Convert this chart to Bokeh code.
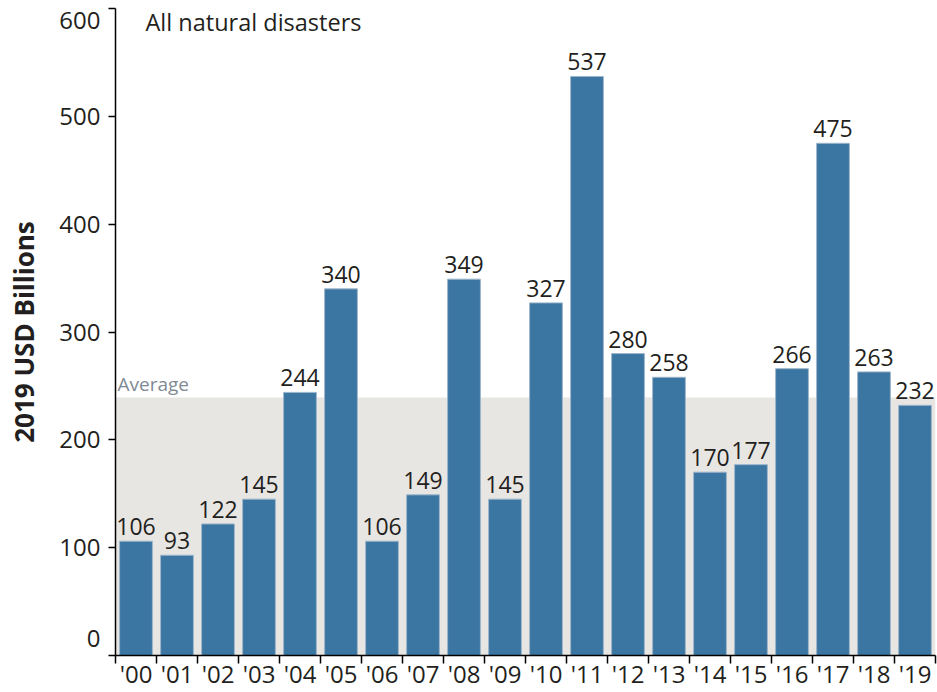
from bokeh.plotting import figure
from bokeh.models import (Range1d, FixedTicker, ColumnDataSource, LabelSet, Label,
                          BoxAnnotation, LinearAxis)
from bokeh.core.properties import value
from bokeh.embed import file_html
from bokeh.resources import INLINE

years = ["'00", "'01", "'02", "'03", "'04", "'05", "'06", "'07", "'08", "'09",
         "'10", "'11", "'12", "'13", "'14", "'15", "'16", "'17", "'18", "'19"]
losses = [106, 93, 122, 145, 244, 340, 106, 149, 349, 145,
          327, 537, 280, 258, 170, 177, 266, 475, 263, 232]
y_ticks = [0, 100, 200, 300, 400, 500, 600]
y_tick_labels = ["0", "100", "200", "300", "400", "500", "600"]
# the source keeps its end labels inside the axis span (nudge in data units)
y_label_nudge = [16, 0, 0, 0, 0, 0, -11]
average = sum(losses) / len(losses)

FONT = "Open Sans"
BAR = "#3B76A2"
TXT = "#231f20"

n = len(years)
centers = [i + 0.5 for i in range(n)]
bounds = [i for i in range(n + 1)]

p = figure(width=937, height=692, output_backend="svg", toolbar_location=None,
           x_range=Range1d(0, n), y_range=Range1d(0, 600),
           min_border_left=115, min_border_right=2, min_border_top=8,
           min_border_bottom=30)
p.outline_line_color = None
p.grid.grid_line_color = None
p.background_fill_color = "white"

band = BoxAnnotation(bottom=0, top=average, fill_color="#E8E6E3", fill_alpha=1,
                     line_color=None, level="underlay")
p.add_layout(band)

src = ColumnDataSource(dict(x=centers, top=losses, lab=[str(v) for v in losses]))
p.vbar(x="x", top="top", bottom=0, width=0.8, source=src, fill_color=BAR,
       line_color="#9DB6CB", line_width=1)

vals = LabelSet(x="x", y="top", text="lab", source=src, text_align="center",
                text_baseline="bottom", y_offset=6, text_font=value(FONT),
                text_font_size=value("23px"), text_color=value(TXT))
p.add_layout(vals)

# x axis: ticks at category boundaries, labels at centers
xa = p.xaxis[0]
xa.ticker = FixedTicker(ticks=centers, minor_ticks=bounds)
xa.major_label_overrides = {c: y for c, y in zip(centers, years)}
xa.major_tick_out = 0
xa.major_tick_in = 0
xa.minor_tick_out = 8
xa.minor_tick_in = 0
xa.minor_tick_line_color = "black"
xa.minor_tick_line_width = 1.5
xa.axis_line_color = "black"
xa.axis_line_width = 1.5
xa.major_label_standoff = -7
xa.major_label_text_font = FONT
xa.major_label_text_font_size = "24px"
xa.major_label_text_color = TXT

# y axis: line and ticks only
ya = p.yaxis[0]
ya.ticker = FixedTicker(ticks=y_ticks)
ya.major_tick_out = 7
ya.major_tick_in = 0
ya.minor_tick_out = 0
ya.minor_tick_in = 0
ya.major_tick_line_width = 1.5
ya.axis_line_width = 1.5
ya.major_label_overrides = {t: "" for t in y_ticks}
ya.major_label_standoff = 4

# y labels on a second, line-less axis
label_pos = [t + d for t, d in zip(y_ticks, y_label_nudge)]
ylab = LinearAxis(ticker=FixedTicker(ticks=label_pos),
                  major_label_overrides={pos: s for pos, s in zip(label_pos, y_tick_labels)},
                  axis_line_color=None, major_tick_line_color=None,
                  minor_tick_line_color=None, major_tick_out=0, major_tick_in=0,
                  major_label_standoff=8, major_label_text_font=FONT,
                  major_label_text_font_size="24px", major_label_text_color=TXT,
                  axis_label="2019 USD Billions", axis_label_standoff=14,
                  axis_label_text_font=FONT, axis_label_text_font_size="26px",
                  axis_label_text_font_style="bold", axis_label_text_color=TXT)
p.add_layout(ylab, "left")

p.add_layout(Label(x=0, y=600, x_offset=30, y_offset=3, text="All natural disasters",
                   text_align="left", text_baseline="top", text_font=FONT,
                   text_font_size="23.5px", text_color=TXT))

p.add_layout(Label(x=0, y=average, x_offset=2, y_offset=1, text="Average",
                   text_align="left", text_baseline="bottom", text_font=FONT,
                   text_font_size="19px", text_color="#7f8a93"))

open("out.html", "w").write(file_html(p, INLINE))
